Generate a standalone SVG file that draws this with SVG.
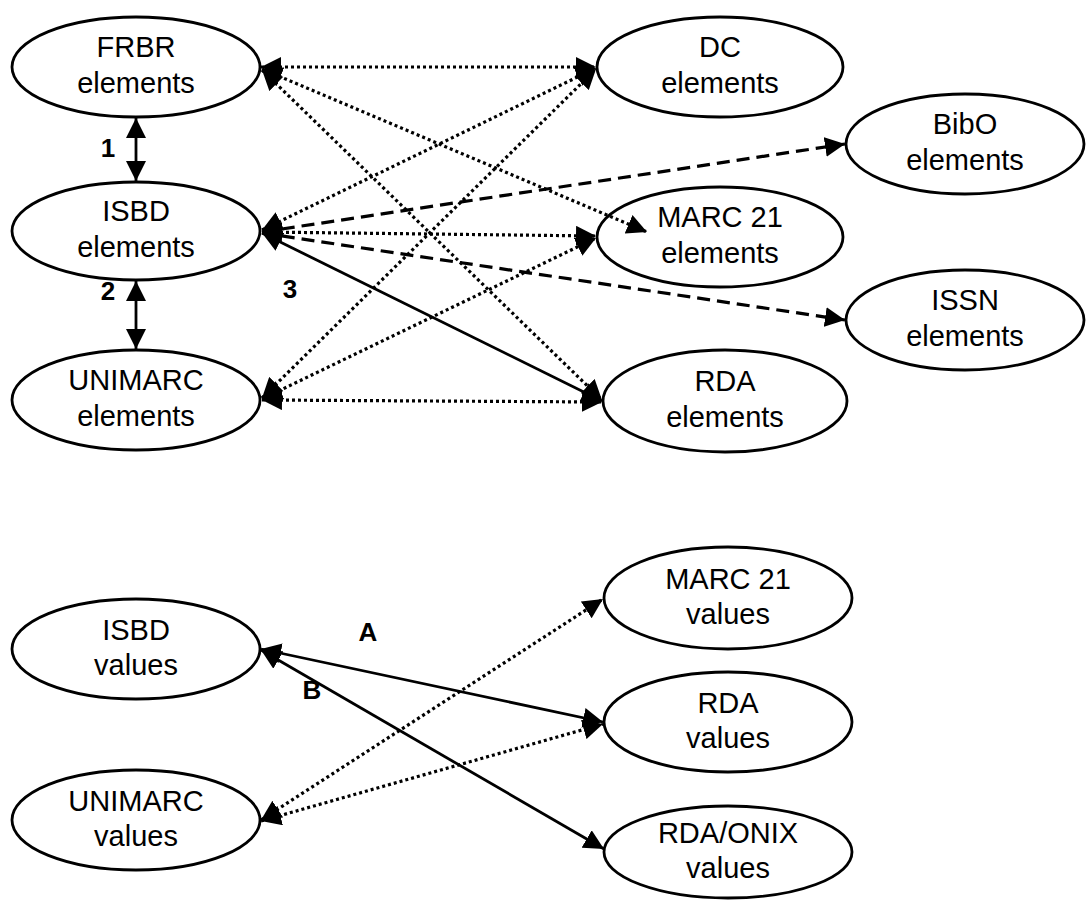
<svg xmlns="http://www.w3.org/2000/svg" width="1090" height="900" viewBox="0 0 1090 900">
<style>
.node ellipse{fill:#fff;stroke:#000;stroke-width:2.8}
.node text{font-family:"Liberation Sans",Arial,sans-serif;font-size:29px;fill:#000;text-anchor:middle}
.lbl{font-family:"Liberation Sans",Arial,sans-serif;font-size:26px;font-weight:bold;fill:#000;text-anchor:middle}
.solid{stroke:#000;stroke-width:2.8;fill:none}
.dot{stroke:#000;stroke-width:3.2;stroke-dasharray:3 3;fill:none}
.dash{stroke:#000;stroke-width:3.2;stroke-dasharray:13 7;fill:none}
.bi{marker-start:url(#ah);marker-end:url(#ah)}
.uni{marker-end:url(#ah)}
</style>
<defs>
<marker id="ah" markerUnits="userSpaceOnUse" markerWidth="20" markerHeight="20" refX="18" refY="9" orient="auto-start-reverse" viewBox="0 0 18 18">
<path d="M0,0 L18,9 L0,18 z" fill="#000" stroke="none"/>
</marker>
</defs>
<rect width="1090" height="900" fill="#fff"/>
<g id="frbr" class="node"><ellipse cx="136" cy="67" rx="124" ry="50"/><text x="136" y="57">FRBR</text><text x="136" y="93">elements</text></g>
<g id="isbd-el" class="node"><ellipse cx="136" cy="231" rx="124" ry="49"/><text x="136" y="221">ISBD</text><text x="136" y="257">elements</text></g>
<g id="unimarc-el" class="node"><ellipse cx="136" cy="400" rx="124" ry="50"/><text x="136" y="390">UNIMARC</text><text x="136" y="426">elements</text></g>
<g id="dc" class="node"><ellipse cx="720" cy="67" rx="123" ry="50"/><text x="720" y="57">DC</text><text x="720" y="93">elements</text></g>
<g id="bibo" class="node"><ellipse cx="965" cy="144" rx="119" ry="50"/><text x="965" y="134">BibO</text><text x="965" y="170">elements</text></g>
<g id="marc21-el" class="node"><ellipse cx="720" cy="237" rx="123" ry="50"/><text x="720" y="227">MARC 21</text><text x="720" y="263">elements</text></g>
<g id="issn" class="node"><ellipse cx="965" cy="320" rx="119" ry="50"/><text x="965" y="310">ISSN</text><text x="965" y="346">elements</text></g>
<g id="rda-el" class="node"><ellipse cx="725" cy="401" rx="122" ry="51"/><text x="725" y="391">RDA</text><text x="725" y="427">elements</text></g>
<g id="isbd-val" class="node"><ellipse cx="136" cy="649" rx="124" ry="50"/><text x="136" y="640">ISBD</text><text x="136" y="675">values</text></g>
<g id="unimarc-val" class="node"><ellipse cx="136" cy="820" rx="124" ry="50"/><text x="136" y="811">UNIMARC</text><text x="136" y="846">values</text></g>
<g id="marc21-val" class="node"><ellipse cx="728" cy="598" rx="124" ry="51"/><text x="728" y="589">MARC 21</text><text x="728" y="624">values</text></g>
<g id="rda-val" class="node"><ellipse cx="728" cy="722" rx="124" ry="50"/><text x="728" y="713">RDA</text><text x="728" y="748">values</text></g>
<g id="rdaonix-val" class="node"><ellipse cx="728" cy="852" rx="124" ry="46"/><text x="728" y="843">RDA/ONIX</text><text x="728" y="878">values</text></g>
<g id="connectors">
<line class="solid bi" x1="136" y1="118" x2="136" y2="181"/>
<line class="solid bi" x1="136" y1="281" x2="136" y2="349"/>
<line class="dot bi" x1="261" y1="67" x2="596" y2="67"/>
<line class="dot bi" x1="262" y1="69" x2="647" y2="232"/>
<line class="dot bi" x1="262" y1="70" x2="602" y2="400"/>
<line class="dot bi" x1="262" y1="230" x2="596" y2="68"/>
<line class="dot bi" x1="262" y1="398" x2="596" y2="69"/>
<line class="dot bi" x1="262" y1="232" x2="596" y2="236"/>
<line class="dot bi" x1="262" y1="399" x2="596" y2="238"/>
<line class="dot bi" x1="262" y1="400" x2="602" y2="402"/>
<line class="dash uni" x1="262" y1="232" x2="845" y2="144"/>
<line class="dash uni" x1="262" y1="233" x2="845" y2="320"/>
<line class="solid bi" x1="262" y1="233" x2="602" y2="401"/>
<line class="solid bi" x1="261" y1="649" x2="603" y2="722"/>
<line class="solid bi" x1="261" y1="650" x2="604" y2="849"/>
<line class="dot bi" x1="261" y1="820" x2="603" y2="599"/>
<line class="dot bi" x1="261" y1="821" x2="603" y2="724"/>
</g>
<g id="labels">
<text class="lbl" x="108" y="157">1</text>
<text class="lbl" x="108" y="300">2</text>
<text class="lbl" x="290" y="298">3</text>
<text class="lbl" x="368" y="641">A</text>
<text class="lbl" x="312" y="699">B</text>
</g>
</svg>
